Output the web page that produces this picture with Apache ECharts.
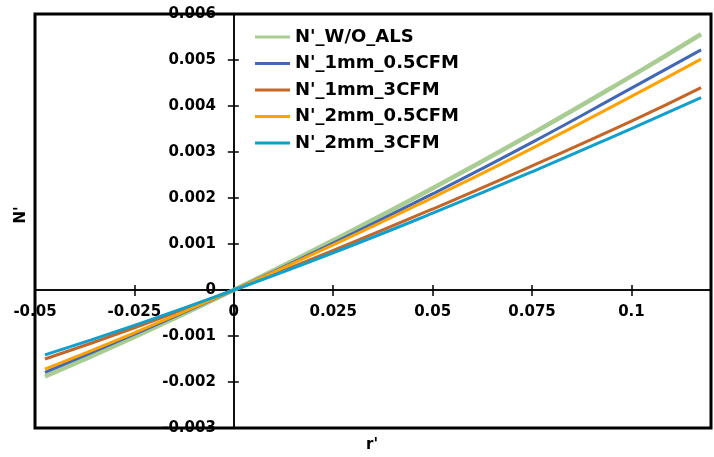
<!DOCTYPE html>
<html>
<head>
<meta charset="utf-8">
<script src="https://cdn.jsdelivr.net/npm/echarts@6/dist/echarts.min.js"></script>
<style>
  html, body { margin: 0; padding: 0; background: #fff; }
  #chart { width: 714px; height: 457px; }
</style>
</head>
<body>
<div id="chart"></div>
<script>
// r' sample points shared by every curve
const rValues = [-0.0475, -0.025, 0, 0.025, 0.05, 0.075, 0.1, 0.1175]

const seriesNames = ["N'_W/O_ALS", "N'_1mm_0.5CFM", "N'_1mm_3CFM", "N'_2mm_0.5CFM", "N'_2mm_3CFM"]
const woAls = [-0.00188, -0.00102, 0, 0.00108, 0.00221, 0.00340, 0.00465, 0.00556]
const mm1Cfm05 = [-0.00179, -0.00096, 0, 0.00102, 0.00209, 0.00321, 0.00439, 0.00522]
const mm1Cfm3 = [-0.00150, -0.00082, 0, 0.00086, 0.00176, 0.00270, 0.00367, 0.00440]
const mm2Cfm05 = [-0.00172, -0.00093, 0, 0.00098, 0.00201, 0.00308, 0.00421, 0.00502]
const mm2Cfm3 = [-0.00141, -0.00077, 0, 0.00081, 0.00167, 0.00257, 0.00351, 0.00418]

const colors = ['#a9cc92', '#4167b5', '#c46628', '#ffa200', '#10a0ce']
const widths = [4.5, 3, 3, 3, 3]

const font = 'DejaVu Sans'
const W = 714, H = 457
const grid = { left: 35, right: 3, top: 14, bottom: 29 }
const xMin = -0.05, xMax = 0.12
const yMin = -0.003, yMax = 0.006

// axes cross at (0, 0): shift them inside the plot with offsets
const plotW = W - grid.left - grid.right
const plotH = H - grid.top - grid.bottom
const zeroX = (0 - xMin) / (xMax - xMin) * plotW // from left edge
const zeroY = (yMax - 0) / (yMax - yMin) * plotH // from top edge

function pairs(values) {
  return rValues.map((r, i) => [r, values[i]])
}

const chart = echarts.init(document.getElementById('chart'))

const tickStyle = { color: '#000', width: 1.5 }
const xBase = {
  type: 'value',
  min: xMin,
  max: xMax,
  interval: 0.025,
  splitLine: { show: false },
  axisLine: { onZero: false, lineStyle: { color: '#000', width: 1.5 } },
}
const yBase = {
  type: 'value',
  min: yMin,
  max: yMax,
  interval: 0.001,
  splitLine: { show: false },
  axisLine: { onZero: false, lineStyle: { color: '#000', width: 1.5 } },
}

chart.setOption({
  animation: false,
  backgroundColor: '#fff',
  grid: {
    show: true,
    left: grid.left,
    right: grid.right,
    top: grid.top,
    bottom: grid.bottom,
    outerBoundsMode: 'none',
    containLabel: false,
    borderColor: '#000',
    borderWidth: 3,
  },
  legend: {
    orient: 'vertical',
    left: 255,
    top: 28,
    padding: 0,
    icon: 'rect',
    itemWidth: 35,
    itemHeight: 3,
    itemGap: 8.5,
    itemTextGap: 3,
    data: seriesNames,
    textStyle: { fontFamily: font, fontWeight: 'bold', fontSize: 18, color: '#000' },
  },
  xAxis: [
    Object.assign({}, xBase, {
      position: 'bottom',
      offset: -(plotH - zeroY),
      axisTick: { show: true, length: 6, lineStyle: tickStyle },
      axisLabel: {
        margin: 15,
        color: '#000',
        fontFamily: font,
        fontWeight: 'bold',
        fontSize: 15,
        formatter: function (v) {
          if (Math.abs(v) < 1e-10) return '0'
          if (Math.abs(v * 40 - Math.round(v * 40)) > 1e-6) return ''
          return String(+v.toFixed(3))
        },
      },
    }),
    Object.assign({}, xBase, {
      position: 'top',
      offset: -zeroY,
      axisTick: { show: true, length: 5, lineStyle: tickStyle },
      axisLabel: { show: false },
    }),
  ],
  yAxis: [
    Object.assign({}, yBase, {
      position: 'left',
      offset: -zeroX,
      axisTick: { show: true, length: 6, lineStyle: tickStyle },
      axisLabel: {
        margin: 18,
        color: '#000',
        fontFamily: font,
        fontWeight: 'bold',
        fontSize: 15,
        formatter: function (v) {
          return Math.abs(v) < 1e-10 ? '0' : v.toFixed(3)
        },
      },
    }),
    Object.assign({}, yBase, {
      position: 'right',
      offset: -(plotW - zeroX),
      axisTick: { show: true, length: 5, lineStyle: tickStyle },
      axisLabel: { show: false },
    }),
  ],
  graphic: [
    {
      type: 'text',
      x: 21,
      y: 215,
      rotation: Math.PI / 2,
      style: {
        text: "N'",
        fill: '#000',
        font: 'bold 15px "DejaVu Sans"',
        textAlign: 'center',
        textVerticalAlign: 'middle',
      },
    },
    {
      type: 'text',
      x: 372,
      y: 445,
      style: {
        text: "r'",
        fill: '#000',
        font: 'bold 15px "DejaVu Sans"',
        textAlign: 'center',
        textVerticalAlign: 'middle',
      },
    },
  ],
  series: [woAls, mm1Cfm05, mm1Cfm3, mm2Cfm05, mm2Cfm3].map((values, i) => ({
    name: seriesNames[i],
    type: 'line',
    xAxisIndex: 0,
    yAxisIndex: 0,
    smooth: true,
    symbol: 'none',
    color: colors[i],
    lineStyle: { color: colors[i], width: widths[i] },
    data: pairs(values),
  })),
})
</script>
</body>
</html>
